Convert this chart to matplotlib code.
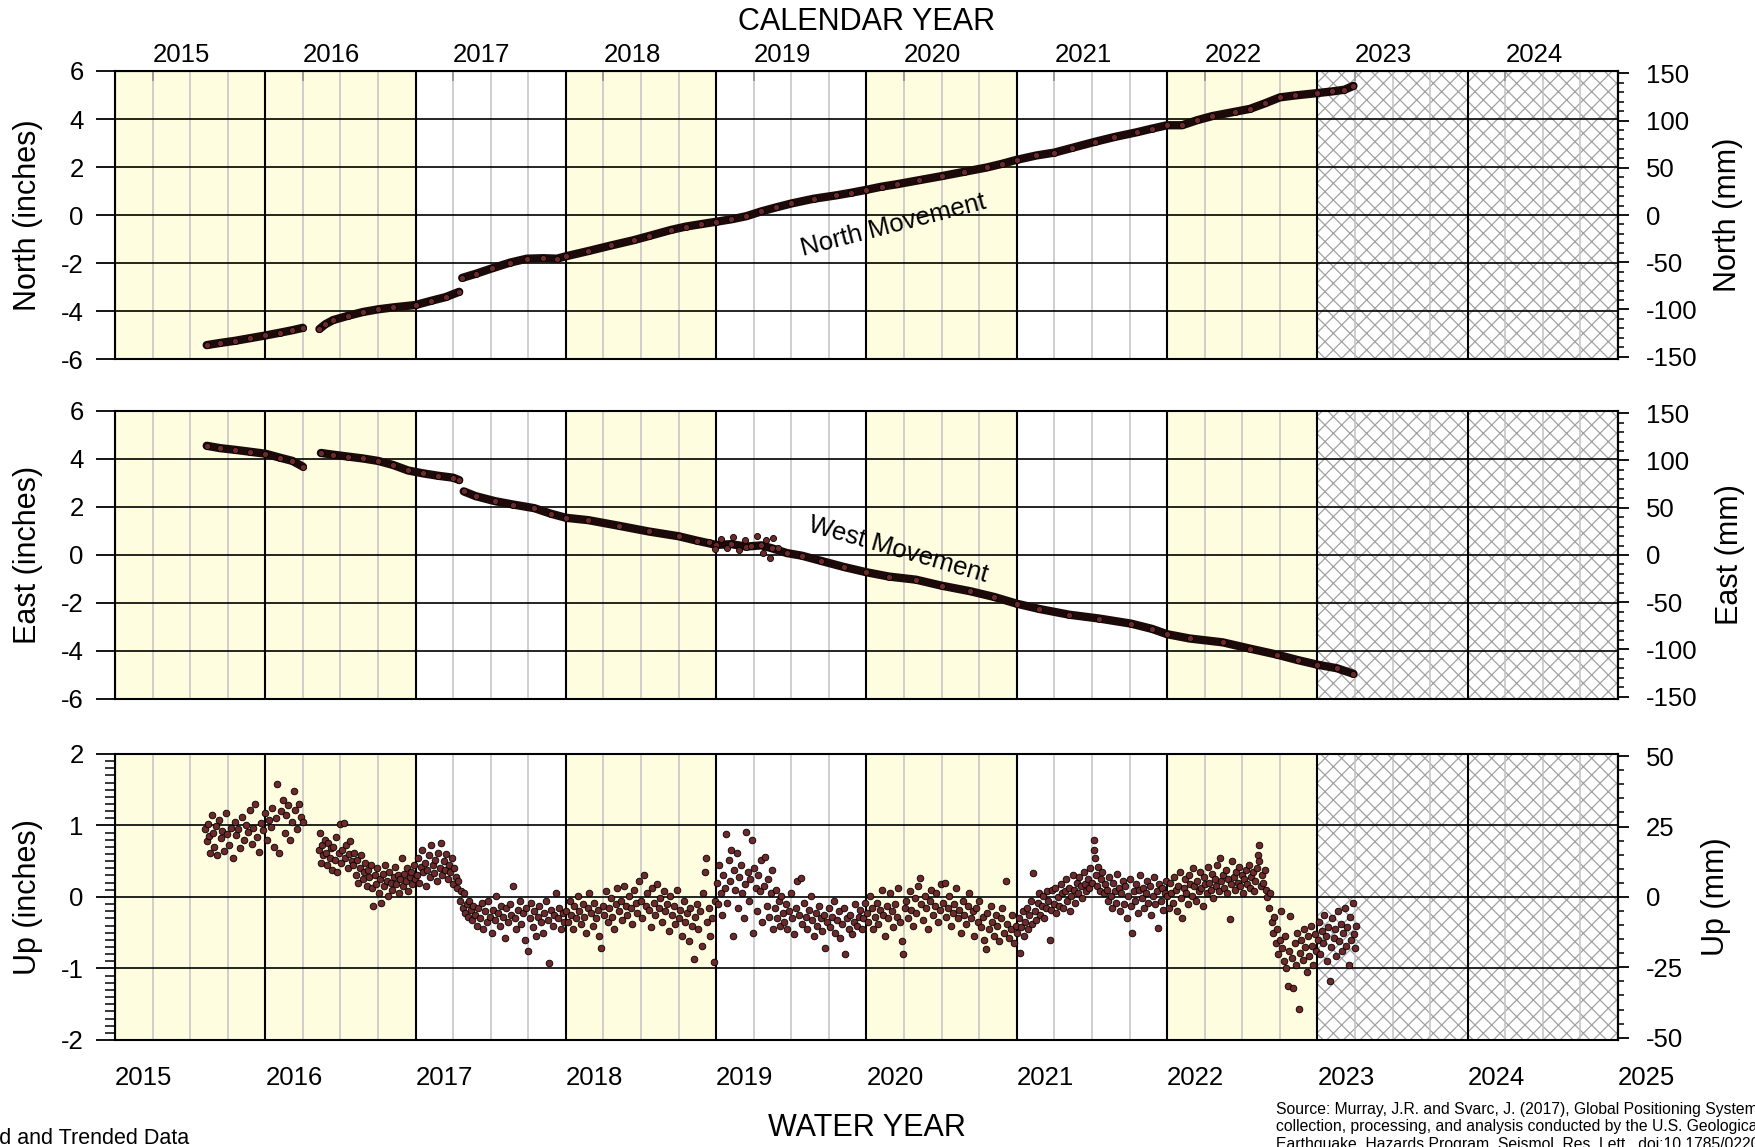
"""GPS station movement: North, East and Up components by water year."""
import numpy as np
import matplotlib
matplotlib.use("Agg")
import matplotlib.pyplot as plt
from matplotlib.ticker import MultipleLocator, NullLocator

plt.rcParams["font.family"] = ["Liberation Sans", "DejaVu Sans"]
plt.rcParams["axes.unicode_minus"] = False
plt.rcParams["hatch.linewidth"] = 0.9

NAN = float("nan")

# water years (bottom labels) and calendar years (top labels)
water_years = list(range(2015, 2026))
calendar_years = list(range(2015, 2025))
shaded_wy = [2015, 2016, 2018, 2020, 2022]
pending_wy = [2023, 2024]

# (decimal year, inches); NAN pairs split the track
north = [
    (2015.36, -5.42), (2015.45, -5.33), (2015.55, -5.24), (2015.65, -5.13), (2015.75, -5.02),
    (2015.85, -4.90), (2015.93, -4.80), (2016.00, -4.70), (NAN, NAN),
    (2016.11, -4.75), (2016.15, -4.55), (2016.20, -4.38), (2016.30, -4.20), (2016.40, -4.04),
    (2016.50, -3.93), (2016.60, -3.85), (2016.75, -3.75), (2016.85, -3.58), (2016.95, -3.42),
    (2017.04, -3.20), (NAN, NAN),
    (2017.06, -2.62), (2017.15, -2.45), (2017.26, -2.22), (2017.38, -1.98), (2017.49, -1.82),
    (2017.60, -1.80), (2017.69, -1.82), (2017.75, -1.72), (2017.90, -1.50), (2018.05, -1.27),
    (2018.20, -1.05), (2018.30, -0.88), (2018.45, -0.62), (2018.55, -0.48), (2018.65, -0.38),
    (2018.75, -0.28), (2018.85, -0.18), (2018.95, -0.05), (2019.05, 0.15), (2019.15, 0.32),
    (2019.25, 0.48), (2019.40, 0.68), (2019.55, 0.82), (2019.65, 0.93), (2019.75, 1.05),
    (2019.85, 1.18), (2019.95, 1.28), (2020.10, 1.45), (2020.25, 1.62), (2020.40, 1.80),
    (2020.55, 1.98), (2020.65, 2.13), (2020.75, 2.30), (2020.88, 2.48), (2021.00, 2.60),
    (2021.12, 2.80), (2021.27, 3.05), (2021.40, 3.25), (2021.55, 3.45), (2021.65, 3.60),
    (2021.75, 3.74), (2021.85, 3.74), (2021.95, 3.95), (2022.05, 4.12), (2022.20, 4.30),
    (2022.30, 4.42), (2022.40, 4.65), (2022.50, 4.90), (2022.60, 4.98), (2022.75, 5.08),
    (2022.85, 5.15), (2022.93, 5.22), (2022.99, 5.38),
]

east = [
    (2015.36, 4.55), (2015.45, 4.45), (2015.55, 4.38), (2015.65, 4.30), (2015.75, 4.22),
    (2015.85, 4.05), (2015.93, 3.92), (2016.00, 3.68), (NAN, NAN),
    (2016.12, 4.25), (2016.20, 4.18), (2016.30, 4.10), (2016.40, 4.02), (2016.50, 3.92),
    (2016.60, 3.75), (2016.70, 3.52), (2016.80, 3.40), (2016.90, 3.30), (2017.00, 3.22),
    (2017.04, 3.12), (NAN, NAN),
    (2017.07, 2.65), (2017.15, 2.45), (2017.28, 2.24), (2017.40, 2.10), (2017.54, 1.95),
    (2017.65, 1.72), (2017.75, 1.55), (2017.90, 1.45), (2018.10, 1.22), (2018.30, 0.98),
    (2018.50, 0.78), (2018.62, 0.60), (2018.75, 0.42), (2018.85, 0.45), (2018.95, 0.35),
    (2019.05, 0.40), (2019.12, 0.28), (2019.22, 0.08), (2019.32, -0.03), (2019.45, -0.25),
    (2019.60, -0.50), (2019.75, -0.72), (2019.90, -0.90), (2020.08, -1.03), (2020.25, -1.28),
    (2020.44, -1.51), (2020.60, -1.75), (2020.75, -2.03), (2020.90, -2.25), (2021.10, -2.49),
    (2021.30, -2.65), (2021.51, -2.86), (2021.65, -3.08), (2021.75, -3.30), (2021.90, -3.48),
    (2022.12, -3.64), (2022.30, -3.90), (2022.48, -4.15), (2022.62, -4.38), (2022.75, -4.57),
    (2022.88, -4.72), (2022.99, -4.95),
]

east_noise = [
    (2018.70, 0.55), (2018.74, 0.25), (2018.78, 0.68), (2018.82, 0.30), (2018.86, 0.75),
    (2018.90, 0.20), (2018.94, 0.62), (2018.98, 0.38), (2019.02, 0.80), (2019.06, 0.10),
    (2019.08, 0.62), (2019.11, -0.12), (2019.13, 0.70), (2019.16, 0.30),
]

up = [
    # WY2015 / early WY2016
    (2015.352, 0.95), (2015.360, 0.78), (2015.368, 1.02), (2015.377, 0.85), (2015.385, 0.62),
    (2015.394, 1.15), (2015.402, 0.90), (2015.411, 0.70), (2015.420, 0.99), (2015.431, 0.58),
    (2015.440, 1.08), (2015.452, 0.83), (2015.463, 0.92), (2015.474, 0.64), (2015.486, 1.17),
    (2015.497, 0.88), (2015.508, 0.73), (2015.520, 0.97), (2015.533, 0.55), (2015.545, 1.05),
    (2015.557, 0.86), (2015.570, 0.95), (2015.582, 0.68), (2015.595, 1.12), (2015.607, 0.80),
    (2015.620, 1.00), (2015.633, 0.91), (2015.646, 1.22), (2015.659, 0.74), (2015.671, 0.96),
    (2015.684, 1.30), (2015.697, 0.84), (2015.710, 0.63), (2015.722, 1.04), (2015.735, 0.93),
    (2015.748, 1.18), (2015.760, 0.79), (2015.772, 1.08), (2015.785, 0.98), (2015.797, 1.25),
    (2015.809, 0.70), (2015.821, 1.10), (2015.830, 1.58), (2015.842, 0.62), (2015.854, 1.20),
    (2015.866, 1.35), (2015.878, 0.90), (2015.890, 1.15), (2015.902, 1.28), (2015.914, 0.80),
    (2015.926, 1.05), (2015.938, 1.48), (2015.950, 1.22), (2015.962, 0.95), (2015.974, 1.30),
    (2015.986, 1.12), (2015.998, 1.05),
    # WY2016 after the gap
    (2016.105, 0.65), (2016.112, 0.90), (2016.120, 0.48), (2016.128, 0.72), (2016.136, 0.58),
    (2016.145, 0.80), (2016.153, 0.62), (2016.161, 0.45), (2016.170, 0.75), (2016.178, 0.55),
    (2016.187, 0.68), (2016.195, 0.38), (2016.203, 0.70), (2016.212, 0.52), (2016.221, 0.84),
    (2016.229, 0.35), (2016.238, 0.62), (2016.246, 1.02), (2016.255, 0.48), (2016.263, 0.66),
    (2016.272, 1.04), (2016.281, 0.55), (2016.290, 0.72), (2016.298, 0.40), (2016.307, 0.60),
    (2016.316, 0.78), (2016.325, 0.50), (2016.334, 0.45), (2016.343, 0.62), (2016.352, 0.30),
    (2016.361, 0.52), (2016.370, 0.20), (2016.379, 0.40), (2016.388, 0.58), (2016.397, 0.25),
    (2016.406, 0.35), (2016.415, 0.48), (2016.424, 0.15), (2016.433, 0.38), (2016.442, 0.28),
    (2016.451, 0.45), (2016.460, 0.12), (2016.468, -0.13), (2016.477, 0.30), (2016.486, 0.18),
    (2016.495, 0.40), (2016.504, 0.05), (2016.513, 0.25), (2016.522, -0.09), (2016.531, 0.32),
    (2016.540, 0.15), (2016.549, 0.45), (2016.558, 0.22), (2016.567, 0.02), (2016.576, 0.35),
    (2016.585, 0.20), (2016.594, 0.10), (2016.603, 0.28), (2016.612, 0.42), (2016.621, 0.18),
    (2016.630, 0.30), (2016.639, 0.05), (2016.648, 0.25), (2016.657, 0.55), (2016.666, 0.15),
    (2016.675, 0.32), (2016.684, 0.22), (2016.693, 0.40), (2016.702, 0.08), (2016.711, 0.28),
    (2016.720, 0.35), (2016.729, 0.18), (2016.738, 0.45), (2016.747, 0.25),
    # WY2017
    (2016.756, 0.30), (2016.765, 0.55), (2016.774, 0.20), (2016.783, 0.42), (2016.792, 0.65),
    (2016.801, 0.35), (2016.810, 0.48), (2016.819, 0.15), (2016.828, 0.38), (2016.837, 0.58),
    (2016.846, 0.28), (2016.855, 0.72), (2016.864, 0.45), (2016.873, 0.33), (2016.882, 0.52),
    (2016.891, 0.22), (2016.900, 0.62), (2016.909, 0.40), (2016.918, 0.75), (2016.927, 0.30),
    (2016.936, 0.50), (2016.945, 0.38), (2016.954, 0.60), (2016.963, 0.25), (2016.972, 0.45),
    (2016.981, 0.35), (2016.990, 0.55), (2016.999, 0.18), (2017.008, 0.40), (2017.017, 0.28),
    (2017.026, 0.12), (2017.035, 0.22), (2017.044, -0.05), (2017.053, 0.08), (2017.062, -0.15),
    (2017.071, 0.05), (2017.080, -0.22), (2017.089, -0.10), (2017.098, -0.28), (2017.107, -0.05),
    (2017.116, -0.18), (2017.125, -0.32), (2017.134, -0.12), (2017.145, -0.25), (2017.156, -0.40),
    (2017.167, -0.15), (2017.178, -0.30), (2017.189, -0.08), (2017.200, -0.45), (2017.211, -0.20),
    (2017.222, -0.35), (2017.233, -0.05), (2017.244, -0.28), (2017.255, -0.50), (2017.266, -0.18),
    (2017.277, -0.32), (2017.288, 0.02), (2017.299, -0.22), (2017.310, -0.40), (2017.321, -0.12),
    (2017.332, -0.28), (2017.343, -0.58), (2017.354, -0.15), (2017.365, -0.35), (2017.376, -0.10),
    (2017.387, -0.25), (2017.398, 0.16), (2017.409, -0.30), (2017.420, -0.45), (2017.431, -0.18),
    (2017.442, -0.05), (2017.453, -0.38), (2017.464, -0.22), (2017.475, -0.60), (2017.486, -0.15),
    (2017.497, -0.75), (2017.508, -0.30), (2017.519, -0.08), (2017.530, -0.42), (2017.541, -0.20),
    (2017.552, -0.55), (2017.563, -0.28), (2017.574, -0.12), (2017.585, -0.35), (2017.596, -0.50),
    (2017.607, -0.22), (2017.618, -0.05), (2017.629, -0.32), (2017.640, -0.92), (2017.651, -0.18),
    (2017.662, -0.40), (2017.673, -0.25), (2017.684, 0.05), (2017.695, -0.30), (2017.706, -0.15),
    (2017.717, -0.45), (2017.728, -0.22), (2017.739, -0.35),
    # WY2018
    (2017.752, -0.20), (2017.763, -0.35), (2017.774, -0.05), (2017.785, -0.25), (2017.796, -0.45),
    (2017.807, -0.12), (2017.818, -0.30), (2017.829, 0.02), (2017.840, -0.20), (2017.851, -0.38),
    (2017.862, -0.10), (2017.873, -0.28), (2017.884, -0.50), (2017.895, -0.15), (2017.906, 0.05),
    (2017.917, -0.22), (2017.928, -0.40), (2017.939, -0.08), (2017.950, -0.30), (2017.961, -0.18),
    (2017.972, -0.55), (2017.983, -0.71), (2017.994, -0.12), (2018.005, -0.25), (2018.016, 0.08),
    (2018.027, -0.35), (2018.038, -0.15), (2018.049, -0.02), (2018.060, -0.28), (2018.071, -0.45),
    (2018.082, -0.10), (2018.093, 0.12), (2018.104, -0.20), (2018.115, -0.05), (2018.126, -0.32),
    (2018.137, 0.15), (2018.148, -0.12), (2018.159, -0.25), (2018.170, 0.02), (2018.181, -0.15),
    (2018.192, -0.38), (2018.203, 0.10), (2018.214, -0.08), (2018.225, -0.22), (2018.236, 0.22),
    (2018.247, -0.05), (2018.258, -0.30), (2018.269, 0.31), (2018.280, -0.12), (2018.291, 0.05),
    (2018.302, -0.18), (2018.313, -0.42), (2018.324, 0.12), (2018.335, -0.08), (2018.346, -0.25),
    (2018.357, 0.18), (2018.368, -0.15), (2018.379, -0.02), (2018.390, -0.35), (2018.401, 0.08),
    (2018.412, -0.20), (2018.423, -0.10), (2018.434, -0.48), (2018.445, 0.02), (2018.456, -0.25),
    (2018.467, -0.12), (2018.478, -0.38), (2018.489, 0.10), (2018.500, -0.30), (2018.511, -0.18),
    (2018.522, -0.55), (2018.533, -0.05), (2018.544, -0.35), (2018.555, -0.22), (2018.566, -0.62),
    (2018.577, -0.15), (2018.588, -0.40), (2018.599, -0.87), (2018.610, -0.28), (2018.621, -0.10),
    (2018.632, -0.45), (2018.643, -0.20), (2018.654, -0.68), (2018.665, 0.05), (2018.676, 0.35),
    (2018.682, 0.54), (2018.690, -0.35), (2018.701, -0.15), (2018.712, -0.55), (2018.723, -0.30),
    (2018.734, -0.91), (2018.742, -0.05),
    # WY2019
    (2018.752, 0.20), (2018.761, -0.10), (2018.770, 0.45), (2018.779, 0.05), (2018.788, -0.25),
    (2018.797, 0.30), (2018.806, 0.12), (2018.815, 0.88), (2018.824, -0.08), (2018.833, 0.52),
    (2018.842, 0.22), (2018.851, 0.66), (2018.860, -0.55), (2018.869, 0.38), (2018.878, 0.10),
    (2018.887, 0.62), (2018.896, -0.15), (2018.905, 0.28), (2018.914, 0.45), (2018.923, 0.05),
    (2018.932, -0.30), (2018.941, 0.18), (2018.950, 0.91), (2018.959, 0.35), (2018.968, -0.05),
    (2018.977, 0.25), (2018.986, 0.80), (2018.995, -0.50), (2019.004, 0.40), (2019.013, 0.12),
    (2019.022, -0.20), (2019.031, 0.30), (2019.040, 0.08), (2019.049, 0.52), (2019.058, -0.35),
    (2019.067, 0.15), (2019.076, 0.56), (2019.085, -0.12), (2019.094, 0.25), (2019.103, -0.28),
    (2019.112, 0.05), (2019.121, 0.38), (2019.130, -0.45), (2019.139, -0.15), (2019.148, 0.10),
    (2019.157, -0.30), (2019.166, -0.05), (2019.175, -0.40), (2019.184, 0.02), (2019.193, -0.22),
    (2019.202, -0.35), (2019.213, -0.10), (2019.224, -0.45), (2019.235, -0.20), (2019.246, 0.05),
    (2019.257, -0.30), (2019.268, -0.52), (2019.279, -0.15), (2019.290, 0.22), (2019.301, -0.25),
    (2019.312, 0.26), (2019.323, -0.38), (2019.334, -0.08), (2019.345, -0.28), (2019.356, -0.45),
    (2019.367, -0.18), (2019.378, 0.02), (2019.389, -0.32), (2019.400, -0.55), (2019.411, -0.22),
    (2019.422, -0.40), (2019.433, -0.12), (2019.444, -0.30), (2019.455, -0.48), (2019.466, -0.25),
    (2019.477, -0.71), (2019.488, -0.35), (2019.499, -0.15), (2019.510, -0.42), (2019.521, -0.28),
    (2019.532, -0.05), (2019.543, -0.50), (2019.554, -0.32), (2019.565, -0.20), (2019.576, -0.58),
    (2019.587, -0.38), (2019.598, -0.15), (2019.609, -0.80), (2019.620, -0.30), (2019.631, -0.45),
    (2019.642, -0.25), (2019.653, -0.52), (2019.664, -0.35), (2019.675, -0.10), (2019.686, -0.40),
    (2019.697, -0.28), (2019.708, -0.18), (2019.719, -0.45), (2019.730, -0.30), (2019.741, -0.08),
    # WY2020
    (2019.752, -0.22), (2019.763, -0.35), (2019.774, 0.02), (2019.785, -0.15), (2019.796, -0.45),
    (2019.807, -0.28), (2019.818, -0.08), (2019.829, -0.38), (2019.840, -0.18), (2019.851, 0.10),
    (2019.862, -0.25), (2019.873, -0.55), (2019.884, -0.12), (2019.895, -0.30), (2019.906, 0.05),
    (2019.917, -0.20), (2019.928, -0.42), (2019.939, -0.10), (2019.950, -0.28), (2019.961, 0.12),
    (2019.972, -0.35), (2019.983, -0.62), (2019.994, -0.80), (2020.005, -0.15), (2020.016, -0.05),
    (2020.027, -0.30), (2020.038, 0.08), (2020.049, -0.18), (2020.060, -0.40), (2020.071, -0.02),
    (2020.082, -0.22), (2020.093, 0.15), (2020.104, 0.26), (2020.115, -0.10), (2020.126, -0.32),
    (2020.137, 0.02), (2020.148, -0.15), (2020.159, -0.45), (2020.170, -0.05), (2020.181, 0.10),
    (2020.192, -0.25), (2020.203, -0.12), (2020.214, 0.05), (2020.225, -0.35), (2020.236, -0.18),
    (2020.247, 0.18), (2020.258, -0.08), (2020.269, 0.20), (2020.280, -0.28), (2020.291, -0.15),
    (2020.302, 0.02), (2020.313, -0.40), (2020.324, -0.22), (2020.335, -0.10), (2020.346, 0.12),
    (2020.357, -0.30), (2020.368, -0.18), (2020.379, -0.50), (2020.390, -0.05), (2020.401, -0.25),
    (2020.412, -0.38), (2020.423, -0.12), (2020.434, 0.05), (2020.445, -0.30), (2020.456, -0.20),
    (2020.467, -0.55), (2020.478, -0.15), (2020.489, -0.35), (2020.500, -0.05), (2020.511, -0.42),
    (2020.522, -0.28), (2020.533, -0.60), (2020.544, -0.73), (2020.555, -0.22), (2020.566, -0.45),
    (2020.577, -0.12), (2020.588, -0.35), (2020.599, -0.55), (2020.610, -0.25), (2020.621, -0.40),
    (2020.632, -0.62), (2020.643, -0.30), (2020.654, -0.15), (2020.665, -0.50), (2020.676, 0.22),
    (2020.687, -0.38), (2020.698, -0.58), (2020.709, -0.45), (2020.720, -0.25), (2020.731, -0.65),
    (2020.742, -0.40),
    # WY2021
    (2020.753, -0.50), (2020.762, -0.30), (2020.771, -0.78), (2020.780, -0.42), (2020.789, -0.20),
    (2020.798, -0.55), (2020.807, -0.35), (2020.816, -0.15), (2020.825, -0.45), (2020.834, -0.25),
    (2020.843, -0.05), (2020.852, -0.38), (2020.861, 0.33), (2020.870, -0.20), (2020.879, -0.32),
    (2020.888, -0.08), (2020.897, 0.05), (2020.906, -0.25), (2020.915, -0.12), (2020.924, 0.02),
    (2020.933, -0.30), (2020.942, -0.15), (2020.951, 0.08), (2020.960, -0.05), (2020.969, -0.60),
    (2020.978, -0.18), (2020.987, 0.10), (2020.996, -0.10), (2021.005, 0.12), (2021.014, -0.22),
    (2021.023, 0.00), (2021.032, -0.12), (2021.041, 0.18), (2021.050, 0.05), (2021.059, -0.15),
    (2021.068, 0.08), (2021.077, 0.25), (2021.086, -0.05), (2021.095, 0.12), (2021.104, -0.20),
    (2021.113, 0.02), (2021.122, 0.30), (2021.131, 0.10), (2021.140, -0.08), (2021.149, 0.20),
    (2021.158, 0.05), (2021.167, 0.28), (2021.176, 0.15), (2021.185, -0.02), (2021.194, 0.35),
    (2021.203, 0.18), (2021.212, 0.08), (2021.221, 0.25), (2021.230, 0.12), (2021.239, 0.40),
    (2021.248, 0.20), (2021.262, 0.80), (2021.266, 0.66), (2021.270, 0.54), (2021.275, 0.30),
    (2021.284, 0.15), (2021.293, 0.42), (2021.302, 0.08), (2021.311, 0.25), (2021.320, 0.35),
    (2021.329, 0.05), (2021.338, 0.18), (2021.347, 0.10), (2021.356, -0.05), (2021.365, 0.28),
    (2021.374, 0.02), (2021.383, -0.15), (2021.392, 0.20), (2021.401, 0.08), (2021.410, -0.08),
    (2021.419, 0.32), (2021.428, 0.12), (2021.437, -0.20), (2021.446, 0.05), (2021.455, 0.22),
    (2021.464, -0.10), (2021.473, 0.15), (2021.482, -0.30), (2021.491, 0.02), (2021.500, 0.25),
    (2021.509, -0.12), (2021.518, -0.50), (2021.527, 0.08), (2021.536, -0.05), (2021.545, 0.18),
    (2021.554, -0.22), (2021.563, 0.10), (2021.572, 0.30), (2021.581, -0.02), (2021.590, 0.12),
    (2021.599, -0.15), (2021.608, 0.05), (2021.617, 0.22), (2021.626, -0.08), (2021.635, 0.15),
    (2021.644, -0.25), (2021.653, 0.02), (2021.662, 0.28), (2021.671, -0.10), (2021.680, 0.08),
    (2021.689, -0.43), (2021.698, 0.18), (2021.707, -0.05), (2021.716, 0.12), (2021.725, -0.18),
    (2021.734, 0.05), (2021.743, 0.22),
    # WY2022
    (2021.752, 0.02), (2021.761, -0.15), (2021.770, 0.20), (2021.779, 0.05), (2021.788, -0.08),
    (2021.797, 0.28), (2021.806, 0.10), (2021.815, -0.20), (2021.824, 0.15), (2021.833, 0.35),
    (2021.842, -0.02), (2021.851, -0.30), (2021.860, 0.12), (2021.869, 0.25), (2021.878, 0.05),
    (2021.887, -0.10), (2021.896, 0.30), (2021.905, 0.18), (2021.914, 0.02), (2021.923, 0.40),
    (2021.932, 0.15), (2021.941, -0.05), (2021.950, 0.22), (2021.959, 0.08), (2021.968, 0.35),
    (2021.977, 0.12), (2021.986, -0.12), (2021.995, 0.28), (2022.004, 0.18), (2022.013, 0.05),
    (2022.022, 0.42), (2022.031, 0.20), (2022.040, 0.10), (2022.049, 0.32), (2022.058, -0.02),
    (2022.067, 0.25), (2022.076, 0.15), (2022.085, 0.45), (2022.094, 0.08), (2022.103, 0.54),
    (2022.112, 0.22), (2022.121, 0.30), (2022.130, 0.12), (2022.139, 0.38), (2022.148, 0.05),
    (2022.157, 0.25), (2022.166, -0.31), (2022.175, 0.18), (2022.184, 0.50), (2022.193, 0.28),
    (2022.202, 0.10), (2022.211, 0.35), (2022.220, 0.20), (2022.229, 0.42), (2022.238, 0.15),
    (2022.247, 0.30), (2022.256, 0.05), (2022.265, 0.25), (2022.274, 0.38), (2022.283, 0.18),
    (2022.292, 0.45), (2022.301, 0.12), (2022.310, 0.28), (2022.319, 0.35), (2022.328, 0.08),
    (2022.337, 0.22), (2022.346, 0.40), (2022.355, 0.58), (2022.360, 0.73), (2022.364, 0.50),
    (2022.373, 0.15), (2022.382, 0.30), (2022.391, 0.20), (2022.400, 0.38), (2022.409, 0.10),
    (2022.418, 0.00), (2022.427, -0.15), (2022.436, 0.05), (2022.445, -0.35), (2022.454, -0.50),
    (2022.463, -0.28), (2022.472, -0.65), (2022.481, -0.45), (2022.490, -0.80), (2022.499, -0.60),
    (2022.508, -0.20), (2022.517, -0.72), (2022.526, -0.90), (2022.535, -0.55), (2022.544, -1.00),
    (2022.553, -1.24), (2022.562, -0.75), (2022.571, -0.27), (2022.580, -0.85), (2022.589, -1.28),
    (2022.598, -0.65), (2022.607, -0.95), (2022.616, -0.50), (2022.625, -1.56), (2022.634, -0.78),
    (2022.643, -0.60), (2022.652, -0.88), (2022.661, -0.45), (2022.670, -0.70), (2022.679, -1.05),
    (2022.688, -0.55), (2022.697, -0.82), (2022.706, -0.40), (2022.715, -0.68), (2022.724, -0.95),
    (2022.733, -0.52), (2022.742, -0.75),
    # WY2023 (partial)
    (2022.751, -0.60), (2022.760, -0.35), (2022.769, -0.80), (2022.778, -0.48), (2022.787, -0.65),
    (2022.796, -0.25), (2022.805, -0.55), (2022.814, -0.90), (2022.823, -0.42), (2022.832, -1.18),
    (2022.841, -0.70), (2022.850, -0.30), (2022.859, -0.58), (2022.868, -0.45), (2022.877, -0.82),
    (2022.886, -0.20), (2022.895, -0.62), (2022.904, -0.38), (2022.913, -0.75), (2022.922, -0.50),
    (2022.931, -0.15), (2022.940, -0.68), (2022.949, -0.42), (2022.958, -0.95), (2022.967, -0.28),
    (2022.976, -0.60), (2022.985, -0.08), (2022.994, -0.52), (2023.003, -0.72), (2023.010, -0.40),
]

source_note = (
    "Source: Murray, J.R. and Svarc, J. (2017), Global Positioning System data\n"
    "collection, processing, and analysis conducted by the U.S. Geological Survey\n"
    "Earthquake  Hazards Program, Seismol. Res. Lett., doi:10.1785/0220160204"
)

TRACK = "#1c0a0a"
DOT = "#6e2a2a"
YELLOW = "#fffde0"
TICK_FS = 18.5
LABEL_FS = 22


def to_mm(v):
    return v * 25.4


def to_in(v):
    return v / 25.4


fig = plt.figure(figsize=(17.56, 11.47), dpi=100)
left, width = 0.0655, 0.8559
ax_n = fig.add_axes([left, 0.6870, width, 0.2511])
ax_e = fig.add_axes([left, 0.3906, width, 0.2511])
ax_u = fig.add_axes([left, 0.0933, width, 0.2494])

panels = [
    (ax_n, -6, 6, 2, None, "North (inches)", "North (mm)", 50, 10, 0.984),
    (ax_e, -6, 6, 2, None, "East (inches)", "East (mm)", 50, 10, 0.985),
    (ax_u, -2, 2, 1, 0.1, "Up (inches)", "Up (mm)", 25, 5, 0.977),
]

# a water year starts on 1 October of the previous calendar year
wy_ticks = [wy - 0.25 for wy in water_years]

for ax, lo, hi, step, minor, ylab, ylab_mm, mm_step, mm_minor, rx in panels:
    ax.set_xlim(wy_ticks[0], wy_ticks[-1])
    ax.set_ylim(lo, hi)
    for wy in shaded_wy:
        ax.axvspan(wy - 0.25, wy + 0.75, facecolor=YELLOW, lw=0, zorder=0)
    for wy in pending_wy:
        ax.axvspan(wy - 0.25, wy + 0.75, facecolor="white", edgecolor="#a2a2a2",
                   hatch="xx", lw=0, zorder=0)

    ax.set_xticks(wy_ticks)
    ax.xaxis.set_minor_locator(MultipleLocator(0.25))
    ax.yaxis.set_major_locator(MultipleLocator(step))
    if minor:
        ax.yaxis.set_minor_locator(MultipleLocator(minor))
    ax.set_axisbelow(True)
    ax.grid(which="major", axis="x", color="black", lw=1.5)
    ax.grid(which="minor", axis="x", color="#c2c2c2", lw=1.1)
    ax.grid(which="major", axis="y", color="black", lw=1.2)

    ax.tick_params(axis="x", which="both", length=0, labelbottom=False)
    ax.tick_params(axis="y", which="major", length=13.5, width=1.3, pad=9, labelsize=TICK_FS)
    ax.tick_params(axis="y", which="minor", length=7, width=1.1)
    for sp in ax.spines.values():
        sp.set_linewidth(1.5)

    sec = ax.secondary_yaxis("right", functions=(to_mm, to_in))
    sec.yaxis.set_major_locator(MultipleLocator(mm_step))
    sec.yaxis.set_minor_locator(MultipleLocator(mm_minor))
    sec.tick_params(which="major", length=8, width=1.3, pad=12, labelsize=TICK_FS)
    sec.tick_params(which="minor", length=4.5, width=1.1)
    sec.spines["right"].set_linewidth(1.5)

    pos = ax.get_position()
    cy = pos.y0 + pos.height / 2
    fig.text(0.016, cy, ylab, rotation=90, ha="center", va="center", fontsize=LABEL_FS)
    fig.text(rx, cy, ylab_mm, rotation=90, ha="center", va="center", fontsize=LABEL_FS)

# horizontal tracks
for ax, pts in [(ax_n, north), (ax_e, east)]:
    t, v = np.array(pts).T
    ax.plot(t, v, color=TRACK, lw=6, solid_capstyle="round", zorder=3)
    ax.plot(t, v, "o", ms=4.4, mfc=DOT, mec="black", mew=0.6, zorder=4)
t, v = np.array(east_noise).T
ax_e.plot(t, v, "o", ms=4.4, mfc=DOT, mec="black", mew=0.6, zorder=4)

# vertical scatter
t, v = np.array(up).T
ax_u.scatter(t, v, s=23, c=DOT, edgecolors="black", linewidths=0.6, zorder=3)

ax_n.text(2019.93, -0.42, "North Movement", rotation=14.5, ha="center", va="center",
          fontsize=TICK_FS)
ax_e.text(2019.96, 0.21, "West Movement", rotation=-16, ha="center", va="center",
          fontsize=TICK_FS)

# bottom water-year labels, left-aligned at the start of each year
ax_u.set_xticks(wy_ticks, labels=[str(wy) for wy in water_years])
ax_u.tick_params(axis="x", labelbottom=True, pad=19, labelsize=TICK_FS)
for lab in ax_u.get_xticklabels():
    lab.set_horizontalalignment("left")

# top calendar-year axis
top = ax_n.secondary_xaxis("top")
top.set_xticks(calendar_years, labels=[str(y) for y in calendar_years])
top.xaxis.set_minor_locator(NullLocator())
top.tick_params(direction="in", length=7, width=1.3, pad=3, labelsize=TICK_FS)
for lab in top.get_xticklabels():
    lab.set_horizontalalignment("left")

fig.text(0.4937, 0.9808, "CALENDAR YEAR", ha="center", va="center", fontsize=LABEL_FS)
fig.text(0.4937, 0.0166, "WATER YEAR", ha="center", va="center", fontsize=LABEL_FS)
fig.text(1276 / 1756, 1 - 1102 / 1147, source_note, ha="left", va="top", fontsize=11.3)
fig.text(189 / 1756, 1 - 1139 / 1147, "Detrended and Trended Data", ha="right",
         va="center", fontsize=15.5)

fig.savefig("out.png", dpi=100)
plt.close(fig)
